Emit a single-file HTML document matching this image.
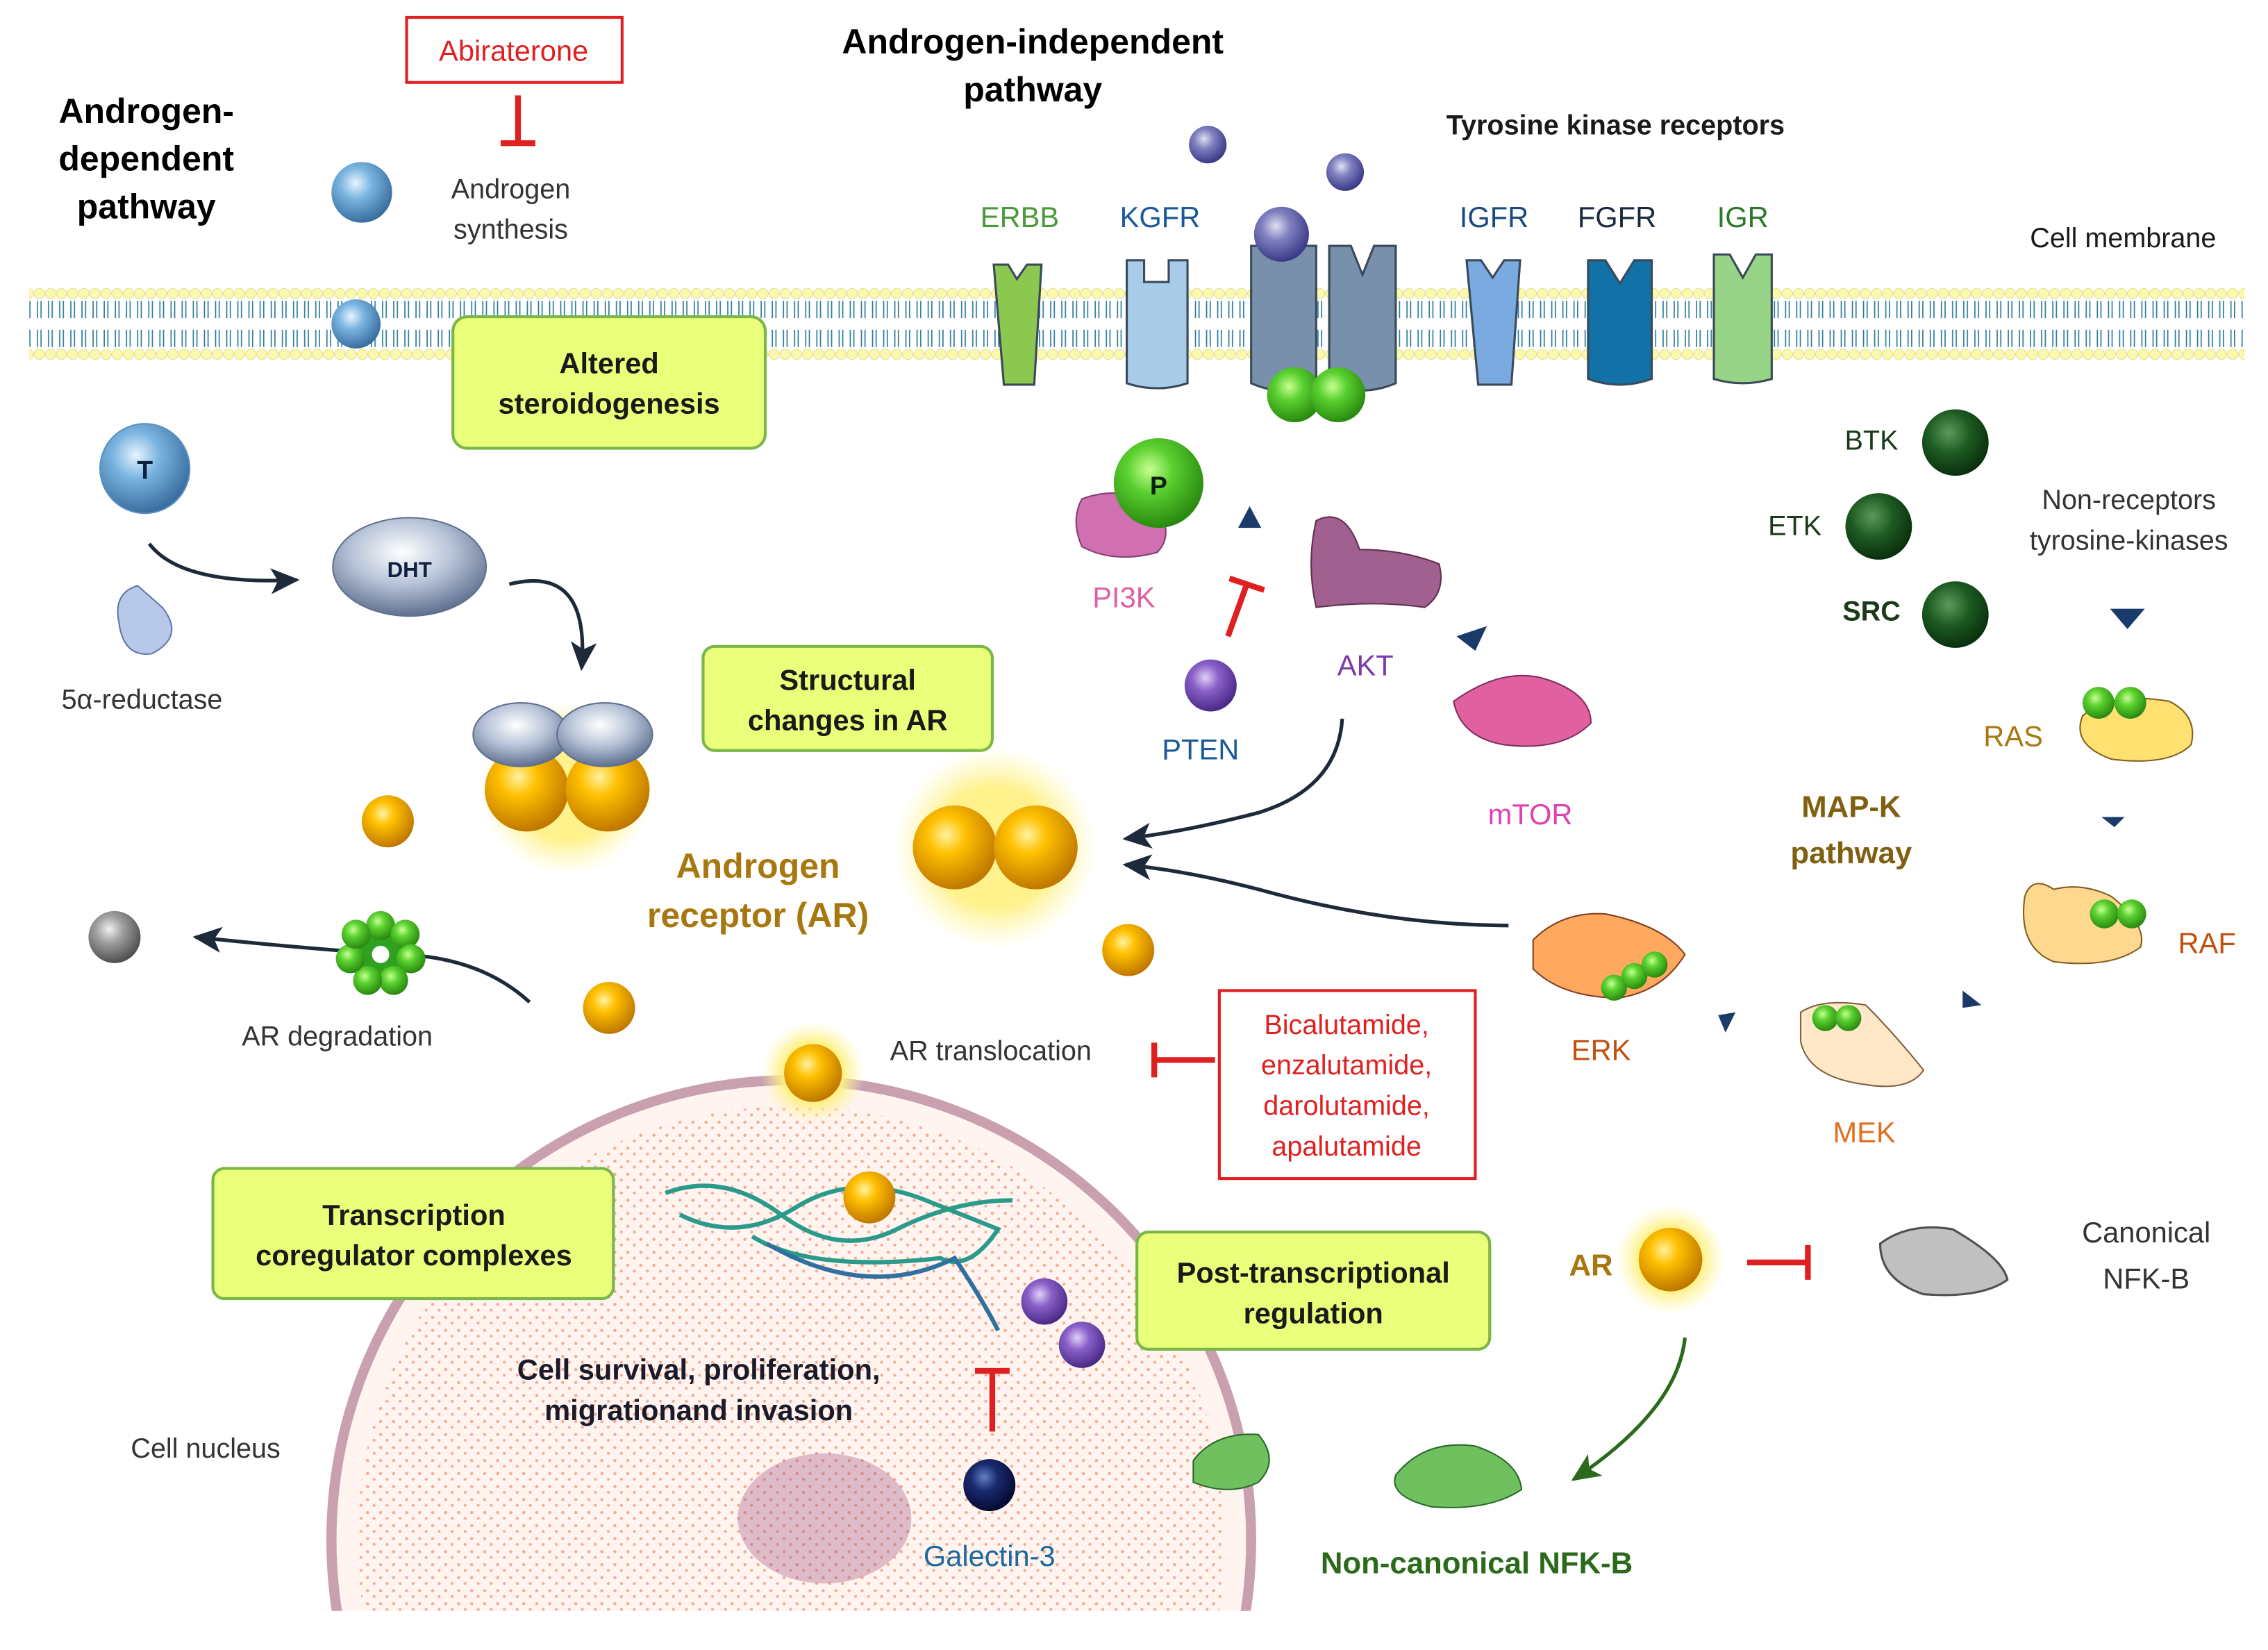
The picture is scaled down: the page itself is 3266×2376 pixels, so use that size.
<!DOCTYPE html>
<html><head><meta charset="utf-8"><style>
html,body{margin:0;padding:0;background:#fff;overflow:hidden;width:3266px;height:2376px}
svg{display:block}
text{font-family:"Liberation Sans",sans-serif}
</style></head><body>
<svg width="3266" height="2376" viewBox="0 0 1568 1141" xmlns="http://www.w3.org/2000/svg">
<defs>
<radialGradient id="gold" cx="40%" cy="35%" r="65%"><stop offset="0" stop-color="#fff2a0"/><stop offset="0.35" stop-color="#ffc000"/><stop offset="1" stop-color="#c07800"/></radialGradient>
<radialGradient id="glow" cx="50%" cy="50%" r="50%"><stop offset="0.6" stop-color="#fff080" stop-opacity="0.9"/><stop offset="1" stop-color="#fff8b0" stop-opacity="0"/></radialGradient>
<radialGradient id="blue" cx="40%" cy="35%" r="65%"><stop offset="0" stop-color="#e8f4ff"/><stop offset="0.4" stop-color="#7ab4e0"/><stop offset="1" stop-color="#3a6ea0"/></radialGradient>
<radialGradient id="purp" cx="40%" cy="35%" r="65%"><stop offset="0" stop-color="#e0e0f0"/><stop offset="0.4" stop-color="#8080c0"/><stop offset="1" stop-color="#3a3a88"/></radialGradient>
<radialGradient id="vio" cx="40%" cy="35%" r="65%"><stop offset="0" stop-color="#e0d0f8"/><stop offset="0.4" stop-color="#8a60c8"/><stop offset="1" stop-color="#4a2a88"/></radialGradient>
<radialGradient id="dkg" cx="40%" cy="35%" r="65%"><stop offset="0" stop-color="#5a9a5a"/><stop offset="0.5" stop-color="#1d5a22"/><stop offset="1" stop-color="#0a300e"/></radialGradient>
<radialGradient id="lg" cx="40%" cy="35%" r="65%"><stop offset="0" stop-color="#c8ff90"/><stop offset="0.4" stop-color="#5ad030"/><stop offset="1" stop-color="#2a8a10"/></radialGradient>
<radialGradient id="gray" cx="40%" cy="35%" r="65%"><stop offset="0" stop-color="#f0f0f0"/><stop offset="0.4" stop-color="#a0a0a0"/><stop offset="1" stop-color="#505050"/></radialGradient>
<radialGradient id="navy" cx="40%" cy="35%" r="65%"><stop offset="0" stop-color="#6080c0"/><stop offset="0.4" stop-color="#1a2a70"/><stop offset="1" stop-color="#050a30"/></radialGradient>
<radialGradient id="disc" cx="45%" cy="35%" r="65%"><stop offset="0" stop-color="#ffffff"/><stop offset="0.5" stop-color="#b8c4d8"/><stop offset="1" stop-color="#607090"/></radialGradient>
<pattern id="mem" x="0" y="196" width="7.7" height="56" patternUnits="userSpaceOnUse">
<circle cx="3.85" cy="7" r="3.6" fill="#fbf8b0" stroke="#e4df90" stroke-width="0.5"/>
<circle cx="3.85" cy="49" r="3.6" fill="#fbf8b0" stroke="#e4df90" stroke-width="0.5"/>
<path d="M2.6 12 v12 M5.1 12 v12 M2.6 32 v12 M5.1 32 v12" stroke="#2a7a9a" stroke-width="0.8" fill="none"/>
</pattern>
<pattern id="dots" width="9" height="9" patternUnits="userSpaceOnUse"><circle cx="2" cy="2" r="1.1" fill="#f07040"/><circle cx="6.5" cy="6" r="1" fill="#f07040"/></pattern>
<marker id="ahb" markerWidth="22" markerHeight="18" refX="18" refY="9" orient="auto" markerUnits="userSpaceOnUse"><path d="M0 0 L20 9 L0 18 L5 9 Z" fill="#1e2a3a"/></marker>
<marker id="ahg" markerWidth="22" markerHeight="18" refX="18" refY="9" orient="auto" markerUnits="userSpaceOnUse"><path d="M0 0 L20 9 L0 18 L5 9 Z" fill="#2a6a1a"/></marker>
<clipPath id="nucClip"><rect x="0" y="0" width="1568" height="1114"/></clipPath>
</defs>

<rect x="20" y="196" width="1532" height="56" fill="url(#mem)"/>

<g clip-path="url(#nucClip)">
<circle cx="547" cy="1065" r="318" fill="#fff4f0" stroke="#c8a0b0" stroke-width="7"/>
<circle cx="547" cy="1065" r="300" fill="url(#dots)" opacity="0.55"/>
<ellipse cx="570" cy="1050" rx="60" ry="45" fill="#a05080" opacity="0.35"/>
</g>

<g font-weight="bold" font-size="24" fill="#000" text-anchor="middle">
<text x="101" y="85">Androgen-</text><text x="101" y="118">dependent</text><text x="101" y="151">pathway</text>
<text x="714" y="37">Androgen-independent</text><text x="714" y="70">pathway</text>
</g>
<text x="1117" y="93" font-size="19" font-weight="bold" fill="#1a1a1a" text-anchor="middle">Tyrosine kinase receptors</text>
<text x="1468" y="171" font-size="19" fill="#1a1a1a" text-anchor="middle">Cell membrane</text>

<rect x="281" y="12" width="149" height="45" fill="#fff" stroke="#e02020" stroke-width="2"/>
<text x="355" y="42" font-size="20" fill="#e02020" text-anchor="middle">Abiraterone</text>
<path d="M358 66 V98 M346 99 H370" stroke="#e02020" stroke-width="4" fill="none"/>
<text x="353" y="137" font-size="19" fill="#333" text-anchor="middle">Androgen</text>
<text x="353" y="165" font-size="19" fill="#333" text-anchor="middle">synthesis</text>
<circle cx="250" cy="133" r="21" fill="url(#blue)"/>
<circle cx="246" cy="224" r="17" fill="url(#blue)"/>

<g fill="#eaff7a" stroke="#7ab648" stroke-width="2">
<rect x="313" y="219" width="216" height="91" rx="10"/>
<rect x="486" y="447" width="200" height="72" rx="8"/>
<rect x="147" y="808" width="277" height="90" rx="8"/>
<rect x="786" y="852" width="244" height="81" rx="8"/>
</g>
<g font-size="20" font-weight="bold" fill="#1a1a1a" text-anchor="middle">
<text x="421" y="258">Altered</text><text x="421" y="286">steroidogenesis</text>
<text x="586" y="477">Structural</text><text x="586" y="505">changes in AR</text>
<text x="286" y="847">Transcription</text><text x="286" y="875">coregulator complexes</text>
<text x="908" y="887">Post-transcriptional</text><text x="908" y="915">regulation</text>
</g>

<g stroke="#3a4a5a" stroke-width="1.5">
<path d="M687 183 L697 183 L703 193 L710 183 L720 183 L715 266 L694 266 Z" fill="#8cc850"/>
<path d="M779 180 L791 180 L791 195 L808 195 L808 180 L821 180 L821 265 Q800 272 779 265 Z" fill="#a8cce8"/>
<path d="M865 170 L910 170 L910 265 Q887 275 865 265 Z" fill="#7890ac"/>
<path d="M919 170 L934 170 L942 190 L950 170 L965 170 L965 265 Q942 275 919 265 Z" fill="#7890ac"/>
<path d="M1014 180 L1024 180 L1032 192 L1040 180 L1051 180 L1045 266 L1022 266 Z" fill="#7aaae0"/>
<path d="M1098 180 L1110 180 L1120 196 L1130 180 L1142 180 L1142 262 Q1120 270 1098 262 Z" fill="#1272a8"/>
<path d="M1185 176 L1196 176 L1205 192 L1214 176 L1225 176 L1225 262 Q1205 268 1185 262 Z" fill="#98d488"/>
</g>
<circle cx="886" cy="162" r="19" fill="url(#purp)"/>
<circle cx="835" cy="100" r="13" fill="url(#purp)"/>
<circle cx="930" cy="119" r="13" fill="url(#purp)"/>
<circle cx="895" cy="273" r="19" fill="url(#lg)"/>
<circle cx="925" cy="273" r="19" fill="url(#lg)"/>
<g font-size="20" text-anchor="middle">
<text x="705" y="157" fill="#4a9a3a">ERBB</text>
<text x="802" y="157" fill="#1a5a9a">KGFR</text>
<text x="1033" y="157" fill="#1a4a80">IGFR</text>
<text x="1118" y="157" fill="#1a2a40">FGFR</text>
<text x="1205" y="157" fill="#2a7a2a">IGR</text>
</g>

<circle cx="100" cy="324" r="31" fill="url(#blue)" stroke="#5a90c0"/>
<text x="100" y="331" font-size="18" font-weight="bold" text-anchor="middle" fill="#102040">T</text>
<path d="M82 430 Q78 410 95 405 L112 420 Q128 440 105 452 Q85 455 82 430 Z" fill="#b8c8e8" stroke="#6078a8"/>
<text x="98" y="490" font-size="19" fill="#333" text-anchor="middle">5α-reductase</text>
<path d="M103 376 Q125 405 205 401" stroke="#1e2a3a" stroke-width="2.5" fill="none" marker-end="url(#ahb)"/>
<ellipse cx="283" cy="392" rx="53" ry="34" fill="url(#disc)" stroke="#607090"/>
<text x="283" y="399" font-size="15" font-weight="bold" text-anchor="middle" fill="#102040">DHT</text>
<path d="M352 404 Q408 390 402 462" stroke="#1e2a3a" stroke-width="2.5" fill="none" marker-end="url(#ahb)"/>

<circle cx="392" cy="545" r="60" fill="url(#glow)"/>
<circle cx="364" cy="546" r="29" fill="url(#gold)"/>
<circle cx="420" cy="546" r="29" fill="url(#gold)"/>
<ellipse cx="360" cy="508" rx="33" ry="22" fill="url(#disc)" stroke="#607090"/>
<ellipse cx="418" cy="508" rx="33" ry="22" fill="url(#disc)" stroke="#607090"/>

<circle cx="268" cy="568" r="18" fill="url(#gold)"/>
<circle cx="421" cy="697" r="18" fill="url(#gold)"/>
<circle cx="780" cy="657" r="18" fill="url(#gold)"/>
<circle cx="688" cy="586" r="70" fill="url(#glow)"/>
<circle cx="660" cy="586" r="29" fill="url(#gold)"/>
<circle cx="716" cy="586" r="29" fill="url(#gold)"/>
<text x="524" y="607" font-size="24" font-weight="bold" fill="#a87810" text-anchor="middle">Androgen</text>
<text x="524" y="641" font-size="24" font-weight="bold" fill="#a87810" text-anchor="middle">receptor (AR)</text>

<circle cx="79" cy="648" r="18" fill="url(#gray)"/>
<path d="M366 693 Q330 660 270 660 Q200 655 135 648" stroke="#1e2a3a" stroke-width="2.5" fill="none" marker-end="url(#ahb)"/>
<circle cx="263" cy="660" r="22" fill="#30a020"/>
<g fill="url(#lg)">
<circle cx="263" cy="640" r="10"/><circle cx="280" cy="646" r="10"/><circle cx="284" cy="663" r="10"/><circle cx="272" cy="678" r="10"/><circle cx="254" cy="678" r="10"/><circle cx="242" cy="663" r="10"/><circle cx="246" cy="646" r="10"/>
</g>
<circle cx="263" cy="660" r="6" fill="#fff"/>
<text x="233" y="723" font-size="19" fill="#333" text-anchor="middle">AR degradation</text>

<circle cx="562" cy="742" r="36" fill="url(#glow)"/>
<circle cx="562" cy="742" r="20" fill="url(#gold)"/>
<text x="685" y="733" font-size="19" fill="#333" text-anchor="middle">AR translocation</text>
<path d="M840 733 H798 M798 721 V745" stroke="#e02020" stroke-width="4" fill="none"/>
<rect x="843" y="685" width="177" height="130" fill="#fff" stroke="#e02020" stroke-width="2"/>
<g font-size="19" fill="#e02020" text-anchor="middle">
<text x="931" y="715">Bicalutamide,</text><text x="931" y="743">enzalutamide,</text><text x="931" y="771">darolutamide,</text><text x="931" y="799">apalutamide</text>
</g>

<path d="M460 825 Q500 810 540 840 T620 850 T700 830 M470 840 Q510 860 550 835 T640 830 T690 850 Q670 880 650 870 Q560 880 520 855" stroke="#2a9a8a" stroke-width="3" fill="none"/>
<path d="M530 860 Q600 900 660 870 Q680 900 690 920" stroke="#3070a0" stroke-width="3" fill="none"/>
<circle cx="601" cy="828" r="18" fill="url(#gold)"/>
<circle cx="722" cy="900" r="16" fill="url(#vio)"/>
<circle cx="748" cy="930" r="16" fill="url(#vio)"/>
<path d="M686 990 V950 M674 948 H698" stroke="#e02020" stroke-width="4" fill="none"/>
<circle cx="684" cy="1027" r="18" fill="url(#navy)"/>
<text x="684" y="1083" font-size="20" fill="#1a6aa0" text-anchor="middle">Galectin-3</text>
<text x="483" y="954" font-size="20" font-weight="bold" fill="#1a1a2a" text-anchor="middle">Cell survival, proliferation,</text>
<text x="483" y="982" font-size="20" font-weight="bold" fill="#1a1a2a" text-anchor="middle">migrationand invasion</text>
<text x="142" y="1008" font-size="19" fill="#333" text-anchor="middle">Cell nucleus</text>
<path d="M825 1010 Q840 990 870 992 Q885 1010 870 1025 Q850 1035 825 1025 Z" fill="#70c060" stroke="#2a6a2a"/>

<path d="M748 345 Q775 335 800 350 Q812 370 800 382 Q770 390 748 378 Q740 360 748 345 Z" fill="#d070b0" stroke="#804070"/>
<circle cx="801" cy="334" r="31" fill="url(#lg)"/>
<text x="801" y="342" font-size="18" font-weight="bold" text-anchor="middle" fill="#102010">P</text>
<text x="777" y="420" font-size="20" fill="#e060a0" text-anchor="middle">PI3K</text>
<path d="M856 365 L872 365 L864 350 Z" fill="#1a3a6a"/>
<path d="M849 440 L862 404 M850 400 L874 408" stroke="#e02020" stroke-width="4" fill="none"/>
<circle cx="837" cy="474" r="18" fill="url(#vio)"/>
<text x="830" y="525" font-size="20" fill="#1a5a9a" text-anchor="middle">PTEN</text>
<path d="M910 360 Q930 350 940 380 Q970 380 995 390 Q1000 410 985 420 Q950 415 910 420 Q903 390 910 360 Z" fill="#a06090" stroke="#603050"/>
<text x="944" y="467" font-size="20" fill="#7a3aaa" text-anchor="middle">AKT</text>
<path d="M1007 440 L1028 433 L1020 450 Z" fill="#1a3a6a"/>
<path d="M1005 485 Q1040 460 1070 470 Q1100 480 1100 500 Q1080 520 1040 515 Q1010 510 1005 485 Z" fill="#e060a0" stroke="#803060"/>
<text x="1058" y="570" font-size="20" fill="#e040b0" text-anchor="middle">mTOR</text>
<path d="M928 497 Q925 545 870 562 Q820 575 778 580" stroke="#1e2a3a" stroke-width="2.5" fill="none" marker-end="url(#ahb)"/>
<path d="M1043 640 Q960 640 870 615 Q820 602 778 598" stroke="#1e2a3a" stroke-width="2.5" fill="none" marker-end="url(#ahb)"/>

<circle cx="1352" cy="306" r="23" fill="url(#dkg)"/>
<circle cx="1299" cy="364" r="23" fill="url(#dkg)"/>
<circle cx="1352" cy="425" r="23" fill="url(#dkg)"/>
<text x="1294" y="311" font-size="19" fill="#1a3a1a" text-anchor="middle">BTK</text>
<text x="1241" y="370" font-size="19" fill="#1a3a1a" text-anchor="middle">ETK</text>
<text x="1294" y="429" font-size="19" font-weight="bold" fill="#1a3a1a" text-anchor="middle">SRC</text>
<text x="1472" y="352" font-size="19" fill="#333" text-anchor="middle">Non-receptors</text>
<text x="1472" y="380" font-size="19" fill="#333" text-anchor="middle">tyrosine-kinases</text>
<path d="M1459 421 L1483 421 L1471 435 Z" fill="#1a3a6a"/>

<path d="M1440 495 Q1460 478 1500 485 Q1520 495 1515 515 Q1500 530 1460 525 Q1432 515 1440 495 Z" fill="#ffe070" stroke="#806020"/>
<circle cx="1451" cy="486" r="11" fill="url(#lg)"/><circle cx="1473" cy="486" r="11" fill="url(#lg)"/>
<text x="1392" y="516" font-size="20" fill="#a87810" text-anchor="middle">RAS</text>
<path d="M1453 565 L1469 565 L1462 572 Z" fill="#1a3a6a"/>
<text x="1280" y="565" font-size="21" font-weight="bold" fill="#806010" text-anchor="middle">MAP-K</text>
<text x="1280" y="597" font-size="21" font-weight="bold" fill="#806010" text-anchor="middle">pathway</text>
<path d="M1400 620 Q1405 605 1420 615 Q1440 610 1460 620 Q1485 640 1480 655 Q1460 670 1420 665 Q1395 655 1400 620 Z" fill="#ffd890" stroke="#806020"/>
<circle cx="1455" cy="632" r="10" fill="url(#lg)"/><circle cx="1474" cy="632" r="10" fill="url(#lg)"/>
<text x="1526" y="659" font-size="20" fill="#c05010" text-anchor="middle">RAF</text>
<path d="M1357 685 L1370 695 L1357 697 Z" fill="#1a3a6a"/>
<path d="M1245 700 Q1260 690 1290 695 Q1310 715 1330 740 Q1320 755 1290 750 Q1250 745 1245 720 Z" fill="#ffe8c8" stroke="#806040"/>
<circle cx="1262" cy="704" r="9" fill="url(#lg)"/><circle cx="1278" cy="704" r="9" fill="url(#lg)"/>
<text x="1289" y="790" font-size="20" fill="#e07020" text-anchor="middle">MEK</text>
<path d="M1188 702 L1200 700 L1193 714 Z" fill="#1a3a6a"/>
<path d="M1060 650 Q1080 630 1110 632 Q1150 640 1165 660 Q1150 685 1120 690 Q1080 690 1060 670 Z" fill="#ffa860" stroke="#804020"/>
<circle cx="1116" cy="683" r="9" fill="url(#lg)"/><circle cx="1130" cy="675" r="9" fill="url(#lg)"/><circle cx="1144" cy="667" r="9" fill="url(#lg)"/>
<text x="1107" y="733" font-size="20" fill="#c05010" text-anchor="middle">ERK</text>

<text x="1100" y="882" font-size="21" font-weight="bold" fill="#a87810" text-anchor="middle">AR</text>
<circle cx="1155" cy="871" r="38" fill="url(#glow)"/>
<circle cx="1155" cy="871" r="22" fill="url(#gold)"/>
<path d="M1208 873 H1250 M1250 861 V885" stroke="#e02020" stroke-width="4" fill="none"/>
<path d="M1300 860 Q1320 845 1350 850 Q1385 870 1388 885 Q1370 898 1330 895 Q1300 885 1300 860 Z" fill="#c0c0c0" stroke="#505050" stroke-width="1.5"/>
<text x="1484" y="859" font-size="20" fill="#333" text-anchor="middle">Canonical</text>
<text x="1484" y="891" font-size="20" fill="#333" text-anchor="middle">NFK-B</text>
<path d="M1165 925 Q1160 975 1088 1023" stroke="#2a6a1a" stroke-width="2.5" fill="none" marker-end="url(#ahg)"/>
<path d="M965 1020 Q985 995 1020 1000 Q1050 1010 1052 1030 Q1030 1045 990 1042 Q960 1035 965 1020 Z" fill="#70c060" stroke="#2a6a2a"/>
<text x="1021" y="1088" font-size="21" font-weight="bold" fill="#2a6a1a" text-anchor="middle">Non-canonical NFK-B</text>
</svg>
</body></html>
